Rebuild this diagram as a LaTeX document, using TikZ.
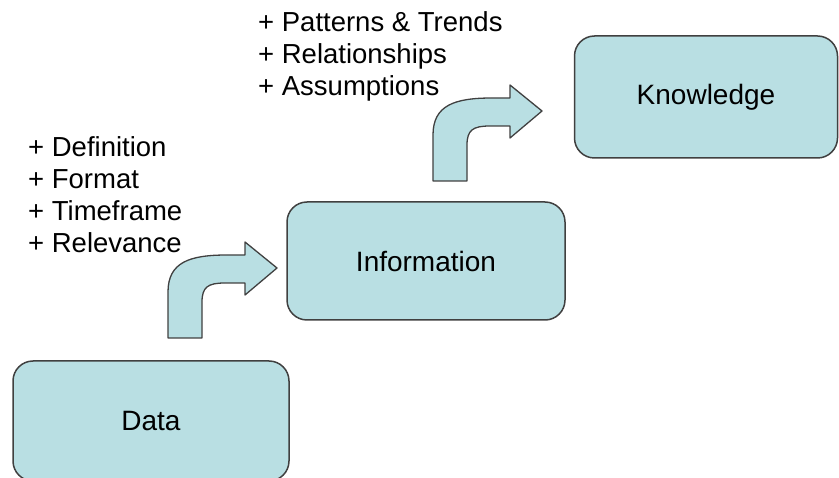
\documentclass[tikz,border=0pt]{standalone}
\usepackage{fontspec}
\setmainfont{Liberation Sans}
\definecolor{boxfill}{HTML}{B9DFE3}
\definecolor{boxline}{HTML}{404040}
\tikzset{
  stage/.style={draw=boxline, fill=boxfill, line width=1.5pt, rounded corners=20pt,
    inner sep=0pt, font=\fontsize{28}{32}\selectfont},
  bent/.style={draw=boxline, fill=boxfill, line width=1.3pt, line join=round},
  addlist/.style={anchor=north west, align=left, inner sep=0pt,
    font=\fontsize{27.5}{32}\selectfont}
}
\begin{document}
\begin{tikzpicture}[x=1pt,y=-1pt]
\useasboundingbox (0,0) rectangle (839,478);
% the three stages
\node[stage, minimum width=276pt, minimum height=120pt] (data) at (151,421) {Data};
\node[stage, minimum width=278pt, minimum height=118pt] (info) at (426,261) {Information};
\node[stage, minimum width=263pt, minimum height=122pt] (know) at (706,97) {Knowledge};
% what gets added on each step
\node[addlist] (dataplus) at (28,136) {+ Definition\\+ Format\\+ Timeframe\\+ Relevance};
\node[addlist] (infoplus) at (258,11) {+ Patterns \& Trends\\+ Relationships\\+ Assumptions};
% bent arrows, drawn from the foot of their shaft
\coordinate (up1) at (168,338);
\coordinate (up2) at (433,181);
\foreach \c in {up1,up2}
  \draw[bent, shift={(\c)}] (0,0) -- (0,-46) .. controls (0,-76) and (22,-83) .. (59,-83)
    -- (77,-83) -- (77,-96) -- (109,-70) -- (77,-43) -- (77,-55) -- (57,-55)
    .. controls (40,-55) and (34,-51) .. (34,-36) -- (34,0) -- cycle;
\end{tikzpicture}
\end{document}
